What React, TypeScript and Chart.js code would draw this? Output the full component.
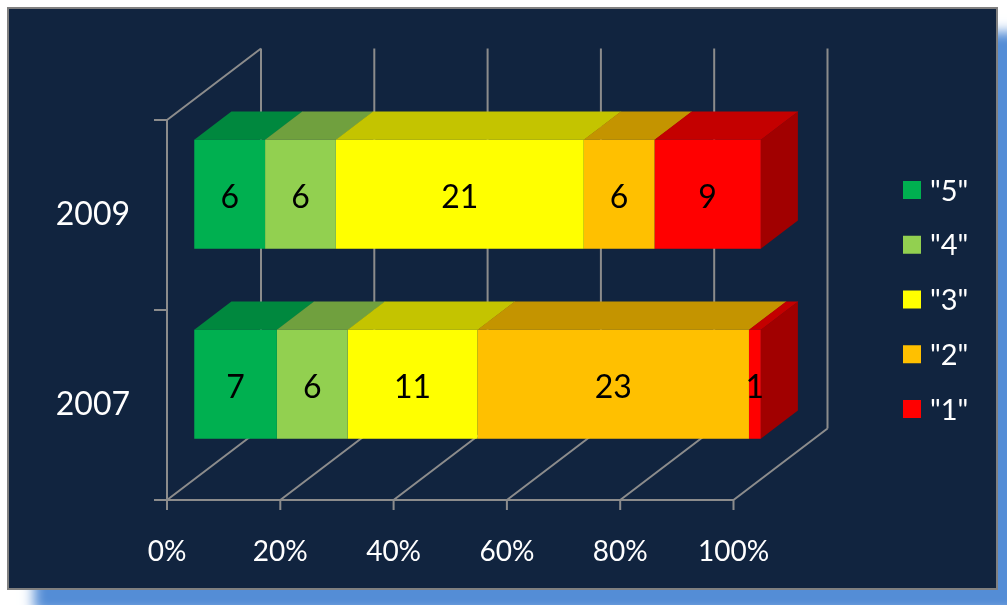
import React, { useEffect, useRef } from 'react';
import { Chart, registerables } from 'chart.js';

Chart.register(...registerables);

// ---- data ----
const years = ['2009', '2007'];
const gradeLabels = ['"5"', '"4"', '"3"', '"2"', '"1"'];
const grade5 = [6, 7];
const grade4 = [6, 6];
const grade3 = [21, 11];
const grade2 = [6, 23];
const grade1 = [9, 1];
const gradeColors = ['#00b050', '#92d050', '#ffff00', '#ffc000', '#ff0000'];
const xTicks = [0, 20, 40, 60, 80, 100];

const gradeCounts = [grade5, grade4, grade3, grade2, grade1];
const totals = years.map((_, i) => gradeCounts.reduce((s, g) => s + g[i], 0));

// ---- style / geometry ----
const FONT = 'Lato, "Open Sans", sans-serif';
const BG = '#11243f';
const GRID = '#8c8c8c';
const DEPTH = { dx: 94, dy: -71.5 };
const BAR_FRONT = 0.29;
const BAR_BACK = 0.685;

function shade(hex: string, f: number) {
  const n = parseInt(hex.slice(1), 16);
  const r = Math.round(((n >> 16) & 255) * f);
  const g = Math.round(((n >> 8) & 255) * f);
  const b = Math.round((n & 255) * f);
  return `rgb(${r},${g},${b})`;
}

const bar3d = {
  id: 'bar3d',
  beforeDraw(chart: any) {
    const ctx = chart.ctx as CanvasRenderingContext2D;
    ctx.save();
    ctx.shadowColor = 'rgba(84,141,214,1)';
    ctx.shadowBlur = 12;
    ctx.shadowOffsetX = 26;
    ctx.shadowOffsetY = 24;
    ctx.fillStyle = BG;
    ctx.fillRect(8, 8, 989, 581);
    ctx.restore();
    ctx.save();
    ctx.strokeStyle = '#808080';
    ctx.lineWidth = 2;
    ctx.strokeRect(8, 8, 989, 581);
    ctx.restore();
  },
  beforeDatasetsDraw(chart: any) {
    const ctx = chart.ctx as CanvasRenderingContext2D;
    const a = chart.chartArea;
    const xs = chart.scales.x;
    ctx.save();
    ctx.strokeStyle = GRID;
    ctx.lineWidth = 2;
    ctx.lineCap = 'butt';
    ctx.beginPath();
    for (const v of xTicks) {
      const px = xs.getPixelForValue(v);
      // back wall vertical
      ctx.moveTo(px + DEPTH.dx, a.top + DEPTH.dy);
      ctx.lineTo(px + DEPTH.dx, a.bottom + DEPTH.dy);
      // floor diagonal
      ctx.moveTo(px + DEPTH.dx, a.bottom + DEPTH.dy);
      ctx.lineTo(px, a.bottom);
      // tick mark
      ctx.moveTo(px, a.bottom);
      ctx.lineTo(px, a.bottom + 10);
    }
    // front floor edge
    ctx.moveTo(a.left, a.bottom);
    ctx.lineTo(a.right, a.bottom);
    // left wall front edge + top diagonal
    ctx.moveTo(a.left, a.bottom);
    ctx.lineTo(a.left, a.top);
    ctx.moveTo(a.left, a.top);
    ctx.lineTo(a.left + DEPTH.dx, a.top + DEPTH.dy);
    // category boundary ticks
    const band = (a.bottom - a.top) / years.length;
    for (let k = 0; k <= years.length; k++) {
      const py = a.top + k * band;
      ctx.moveTo(a.left - 13, py);
      ctx.lineTo(a.left, py);
    }
    ctx.stroke();
    ctx.restore();

    // move into the depth where bars live
    ctx.save();
    ctx.translate(DEPTH.dx * BAR_FRONT, DEPTH.dy * BAR_FRONT);
    const bx = DEPTH.dx * (BAR_BACK - BAR_FRONT);
    const by = DEPTH.dy * (BAR_BACK - BAR_FRONT);
    const nd = chart.data.datasets.length;
    for (let d = 0; d < nd; d++) {
      const meta = chart.getDatasetMeta(d);
      const color = chart.data.datasets[d].backgroundColor as string;
      meta.data.forEach((el: any, i: number) => {
        const p = el.getProps(['x', 'y', 'base', 'height'], true);
        const left = Math.min(p.x, p.base);
        const right = Math.max(p.x, p.base);
        const top = p.y - p.height / 2;
        const bottom = p.y + p.height / 2;
        if (right - left < 0.01) return;
        ctx.fillStyle = shade(color, 0.77);
        ctx.beginPath();
        ctx.moveTo(left, top);
        ctx.lineTo(right + 0.5, top);
        ctx.lineTo(right + bx + 0.5, top + by);
        ctx.lineTo(left + bx, top + by);
        ctx.closePath();
        ctx.fill();
        // side face only on the last non-empty segment
        let last = true;
        for (let k = d + 1; k < nd; k++) if (gradeCounts[k][i] > 0) last = false;
        if (last) {
          ctx.fillStyle = shade(color, 0.63);
          ctx.beginPath();
          ctx.moveTo(right, top);
          ctx.lineTo(right + bx, top + by);
          ctx.lineTo(right + bx, bottom + by);
          ctx.lineTo(right, bottom);
          ctx.closePath();
          ctx.fill();
        }
      });
    }
  },
  afterDatasetsDraw(chart: any) {
    const ctx = chart.ctx as CanvasRenderingContext2D;
    // data labels (still translated)
    ctx.fillStyle = '#000';
    ctx.font = `32px ${FONT}`;
    ctx.textAlign = 'center';
    ctx.textBaseline = 'alphabetic';
    chart.data.datasets.forEach((ds: any, d: number) => {
      const meta = chart.getDatasetMeta(d);
      meta.data.forEach((el: any, i: number) => {
        const v = gradeCounts[d][i];
        if (!v) return;
        const p = el.getProps(['x', 'y', 'base'], true);
        ctx.fillText(String(v), (p.x + p.base) / 2, p.y + 14);
      });
    });
    ctx.restore();
  },
  afterDraw(chart: any) {
    const ctx = chart.ctx as CanvasRenderingContext2D;
    ctx.save();
    ctx.font = `29px ${FONT}`;
    ctx.textAlign = 'left';
    ctx.textBaseline = 'alphabetic';
    chart.data.datasets.forEach((ds: any, i: number) => {
      const cy = 190 + i * 54.75;
      ctx.fillStyle = ds.backgroundColor;
      ctx.fillRect(903, cy - 9, 18, 18);
      ctx.fillStyle = '#ffffff';
      ctx.fillText(ds.label, 930, cy + 10.5);
    });
    ctx.restore();
  },
};

export default function App() {
  const ref = useRef<HTMLCanvasElement>(null);
  useEffect(() => {
    if (!ref.current) return;
    const chart = new Chart(ref.current, {
      type: 'bar',
      data: {
        labels: years,
        datasets: gradeLabels.map((label, d) => ({
          label,
          data: gradeCounts[d].map((c, i) => (c / totals[i]) * 100),
          backgroundColor: gradeColors[d],
          borderWidth: 0,
          categoryPercentage: 1,
          barPercentage: 0.574,
          clip: false as any,
        })),
      },
      options: {
        responsive: false,
        animation: false,
        devicePixelRatio: 1,
        events: [],
        indexAxis: 'y',
        layout: { padding: { top: 120, right: 273.5, bottom: 0, left: 0 } },
        plugins: {
          legend: { display: false },
          tooltip: { enabled: false },
          title: { display: false },
        },
        scales: {
          x: {
            type: 'linear',
            stacked: true,
            min: 0,
            max: 100,
            afterBuildTicks: (s: any) => {
              s.ticks = xTicks.map((v) => ({ value: v }));
            },
            afterFit: (s: any) => {
              s.height = 105;
            },
            ticks: {
              callback: (v: any) => `${v}%`,
              color: '#ffffff',
              font: { family: FONT, size: 28 },
              padding: 35,
              maxRotation: 0,
              autoSkip: false,
            },
            grid: { display: false, drawTicks: false },
            border: { display: false },
          },
          y: {
            type: 'category',
            stacked: true,
            afterFit: (s: any) => {
              s.width = 167;
            },
            ticks: {
              color: '#ffffff',
              font: { family: FONT, size: 32 },
              padding: 37,
            },
            grid: { display: false, drawTicks: false },
            border: { display: false },
          },
        },
      } as any,
      plugins: [bar3d],
    });
    (document as any).fonts?.load?.(`32px Lato`).then(() => chart.update()).catch(() => {});
    return () => chart.destroy();
  }, []);
  return (
    <div style={{ position: 'fixed', left: 0, top: 0, width: 1007, height: 605 }}>
      <canvas ref={ref} width={1007} height={605} style={{ display: 'block' }} />
    </div>
  );
}
